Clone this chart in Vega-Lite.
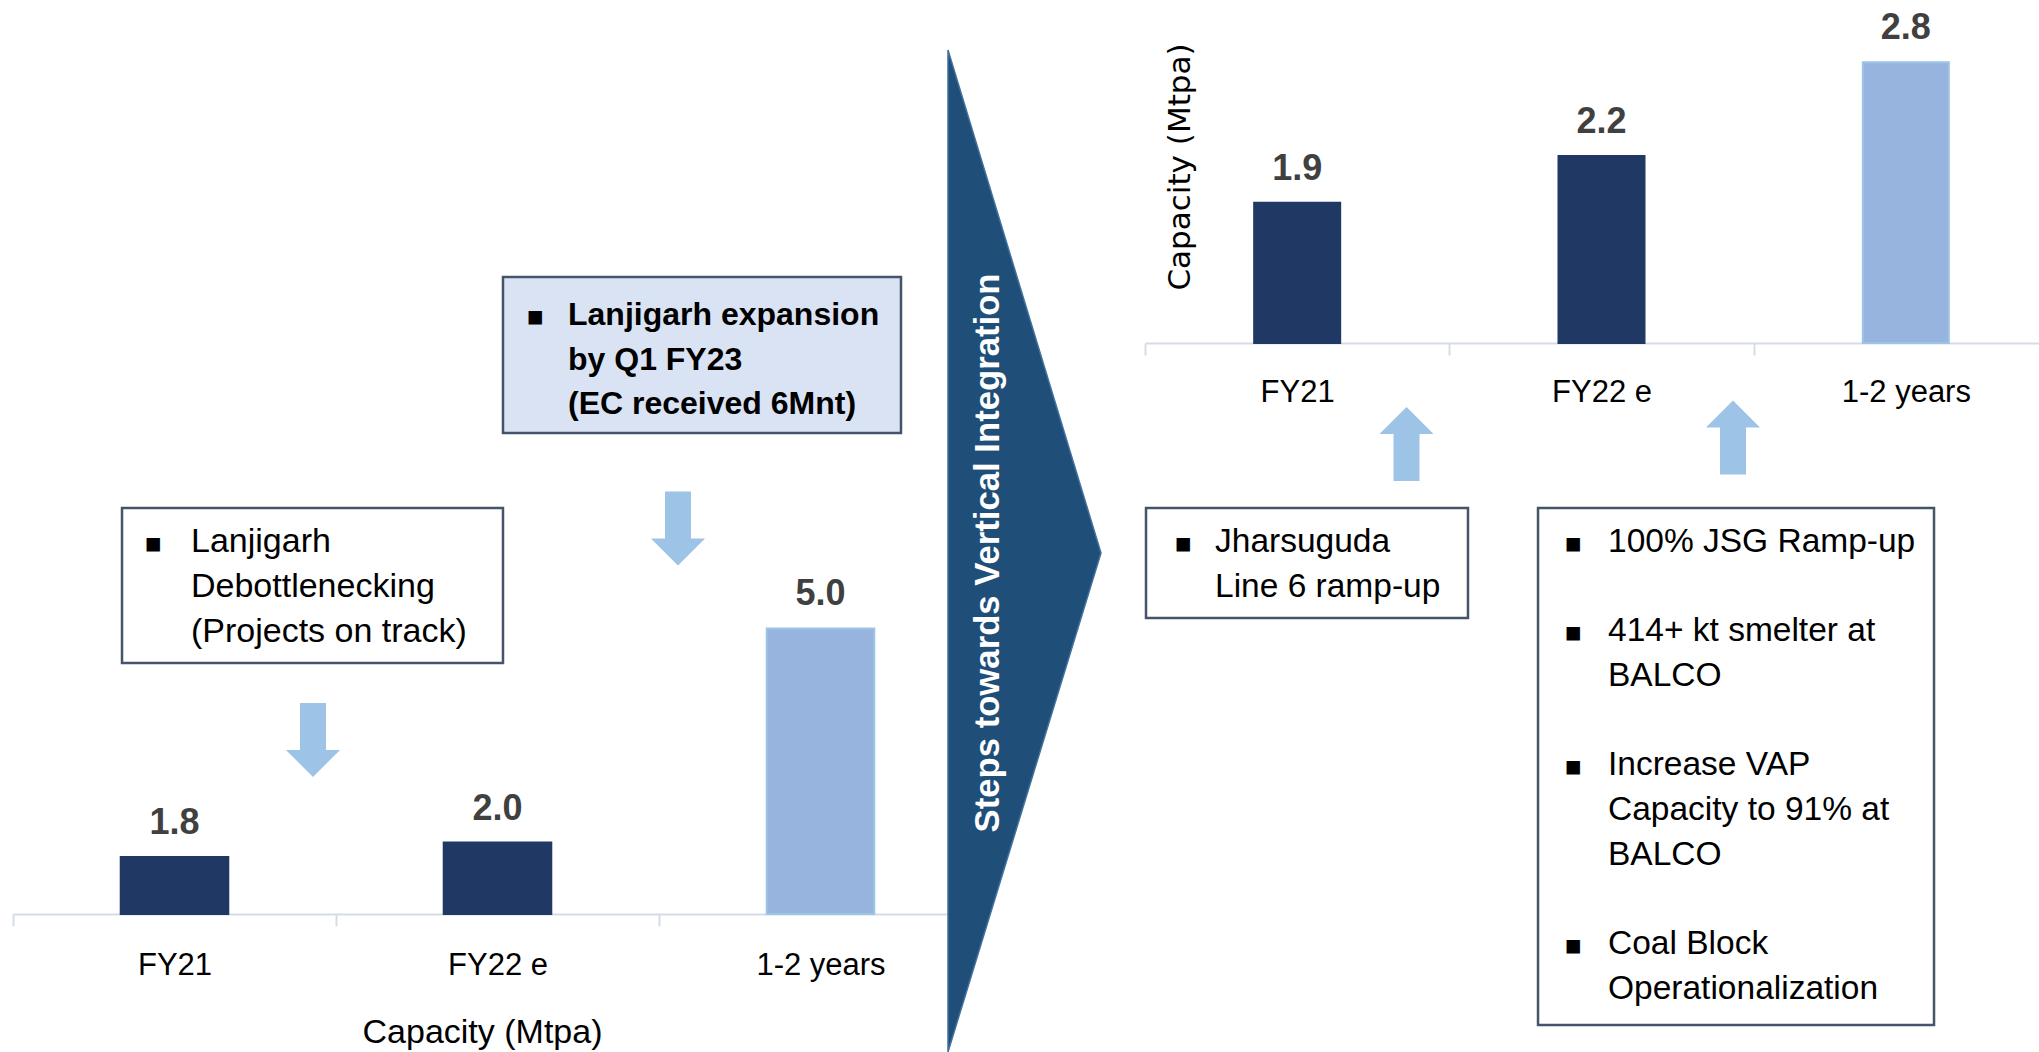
{
  "$schema": "https://vega.github.io/schema/vega-lite/v6.json",
  "background": "white",
  "padding": {"left": 12, "top": 0, "right": 0, "bottom": 0},
  "autosize": {"type": "pad"},
  "bounds": "flush",
  "spacing": 163,
  "config": {"view": {"stroke": null}, "font": "Liberation Sans", "axis": {"grid": false}},
  "datasets": {
    "alumina": [
      {"period": "FY21", "capacity": 1.8, "status": "Current"},
      {"period": "FY22 e", "capacity": 2.0, "status": "Current"},
      {"period": "1-2 years", "capacity": 5.0, "status": "Planned"}
    ],
    "aluminium": [
      {"period": "FY21", "capacity": 1.9, "status": "Current"},
      {"period": "FY22 e", "capacity": 2.2, "status": "Current"},
      {"period": "1-2 years", "capacity": 2.8, "status": "Planned"}
    ]
  },
  "hconcat": [
    {
      "width": 969,
      "height": 914,
      "resolve": {"scale": {"x": "independent"}},
      "layer": [
        {
          "data": {"name": "alumina"},
          "mark": {"type": "bar", "strokeWidth": 2, "width": {"band": 0.333}},
          "encoding": {
            "x": {"field": "period", "type": "nominal", "sort": null,
              "scale": {"paddingInner": 0, "paddingOuter": 0},
              "axis": {"title": "Capacity (Mtpa)", "labelAngle": 0, "domainColor": "#D6DCE5", "domainWidth": 2,
                "tickColor": "#D6DCE5", "tickWidth": 2, "tickSize": 12, "tickBand": "extent",
                "labelFont": "Liberation Sans", "labelFontSize": 31, "labelColor": "#000000", "labelPadding": 24,
                "titleFont": "Liberation Sans", "titleFontSize": 34, "titleFontWeight": "normal", "titleColor": "#000000",
                "titleX": 469, "titleY": 128, "titleBaseline": "alphabetic", "titleAlign": "center"}},
            "y": {"field": "capacity", "type": "quantitative", "scale": {"domain": [1, 13.8], "nice": false, "zero": false}, "axis": null},
            "y2": {"datum": 1},
            "color": {"field": "status", "type": "nominal", "scale": {"domain": ["Current", "Planned"], "range": ["#203864", "#97B4DE"]}, "legend": null},
            "stroke": {"field": "status", "type": "nominal", "scale": {"domain": ["Current", "Planned"], "range": ["#203864", "#9DC3E6"]}, "legend": null}
          }
        },
        {
          "data": {"name": "alumina"},
          "mark": {"type": "text", "dy": -23, "baseline": "alphabetic", "fontSize": 36, "fontWeight": "bold", "color": "#404040"},
          "encoding": {
            "x": {"field": "period", "type": "nominal", "sort": null, "scale": {"paddingInner": 0, "paddingOuter": 0}, "axis": null},
            "y": {"field": "capacity", "type": "quantitative", "scale": {"domain": [1, 13.8], "nice": false, "zero": false}, "axis": null},
            "text": {"field": "capacity", "type": "quantitative", "format": ".1f"}
          }
        },
        {
          "data": {"values": [{"note": "Lanjigarh debottlenecking"}]},
          "mark": {"type": "rect", "fill": "#FFFFFF", "stroke": "#44546A", "strokeWidth": 2.5},
          "encoding": {
            "x": {"datum": 0.3375, "type": "quantitative", "scale": {"domain": [0, 3], "nice": false, "zero": false}, "axis": null},
            "x2": {"datum": 1.517},
            "y": {"datum": 6.686, "type": "quantitative", "scale": {"domain": [1, 13.8], "nice": false, "zero": false}, "axis": null},
            "y2": {"datum": 4.515}
          }
        },
        {
          "data": {"values": [{"note": "Lanjigarh expansion"}]},
          "mark": {"type": "rect", "fill": "#DAE3F3", "stroke": "#44546A", "strokeWidth": 2.5},
          "encoding": {
            "x": {"datum": 1.517, "type": "quantitative", "scale": {"domain": [0, 3], "nice": false, "zero": false}, "axis": null},
            "x2": {"datum": 2.7492},
            "y": {"datum": 9.921, "type": "quantitative", "scale": {"domain": [1, 13.8], "nice": false, "zero": false}, "axis": null},
            "y2": {"datum": 7.736}
          }
        },
        {
          "data": {"values": [{"t": "▪"}]},
          "mark": {"type": "text", "align": "left", "baseline": "alphabetic", "font": "DejaVu Sans", "fontSize": 27, "color": "#000000"},
          "encoding": {
            "x": {"datum": 0.4056, "type": "quantitative", "scale": {"domain": [0, 3], "nice": false, "zero": false}, "axis": null},
            "y": {"datum": 6.07, "type": "quantitative", "scale": {"domain": [1, 13.8], "nice": false, "zero": false}, "axis": null},
            "text": {"field": "t"}
          }
        },
        {
          "data": {"values": [{"t": "Lanjigarh\nDebottlenecking\n(Projects on track)"}]},
          "mark": {"type": "text", "align": "left", "baseline": "alphabetic", "fontSize": 34, "lineHeight": 45, "lineBreak": "\n", "color": "#000000"},
          "encoding": {
            "x": {"datum": 0.551, "type": "quantitative", "scale": {"domain": [0, 3], "nice": false, "zero": false}, "axis": null},
            "y": {"datum": 6.07, "type": "quantitative", "scale": {"domain": [1, 13.8], "nice": false, "zero": false}, "axis": null},
            "text": {"field": "t"}
          }
        },
        {
          "data": {"values": [{"t": "▪"}]},
          "mark": {"type": "text", "align": "left", "baseline": "alphabetic", "font": "DejaVu Sans", "fontSize": 27, "color": "#000000"},
          "encoding": {
            "x": {"datum": 1.5882, "type": "quantitative", "scale": {"domain": [0, 3], "nice": false, "zero": false}, "axis": null},
            "y": {"datum": 9.249, "type": "quantitative", "scale": {"domain": [1, 13.8], "nice": false, "zero": false}, "axis": null},
            "text": {"field": "t"}
          }
        },
        {
          "data": {"values": [{"t": "Lanjigarh expansion\nby Q1 FY23\n(EC received 6Mnt)"}]},
          "mark": {"type": "text", "align": "left", "baseline": "alphabetic", "fontSize": 32, "fontWeight": "bold", "lineHeight": 44.7, "lineBreak": "\n", "color": "#000000"},
          "encoding": {
            "x": {"datum": 1.7183, "type": "quantitative", "scale": {"domain": [0, 3], "nice": false, "zero": false}, "axis": null},
            "y": {"datum": 9.249, "type": "quantitative", "scale": {"domain": [1, 13.8], "nice": false, "zero": false}, "axis": null},
            "text": {"field": "t"}
          }
        },
        {
          "data": {"values": [{"arrow": "debottlenecking to FY22 e"}]},
          "mark": {"type": "point", "filled": true, "opacity": 1, "color": "#9DC3E6", "strokeWidth": 0, "size": 5476,
            "shape": "M-0.351,-1L0.351,-1L0.351,0.27L0.73,0.27L0,1L-0.73,0.27L-0.351,0.27Z"},
          "encoding": {
            "x": {"datum": 0.9288, "type": "quantitative", "scale": {"domain": [0, 3], "nice": false, "zero": false}, "axis": null},
            "y": {"datum": 3.437, "type": "quantitative", "scale": {"domain": [1, 13.8], "nice": false, "zero": false}, "axis": null}
          }
        },
        {
          "data": {"values": [{"arrow": "expansion to 1-2 years"}]},
          "mark": {"type": "point", "filled": true, "opacity": 1, "color": "#9DC3E6", "strokeWidth": 0, "size": 5476,
            "shape": "M-0.351,-1L0.351,-1L0.351,0.27L0.73,0.27L0,1L-0.73,0.27L-0.351,0.27Z"},
          "encoding": {
            "x": {"datum": 2.0588, "type": "quantitative", "scale": {"domain": [0, 3], "nice": false, "zero": false}, "axis": null},
            "y": {"datum": 6.399, "type": "quantitative", "scale": {"domain": [1, 13.8], "nice": false, "zero": false}, "axis": null}
          }
        },
        {
          "data": {"values": [{"shape": "chevron"}]},
          "mark": {"type": "point", "filled": true, "opacity": 1, "fill": "#1F4E79", "stroke": "#41719C", "strokeWidth": 1.5, "size": 1004004,
            "shape": "M0,-1L0.3054,0.004L0,1Z"},
          "encoding": {
            "x": {"datum": 2.8947, "type": "quantitative", "scale": {"domain": [0, 3], "nice": false, "zero": false}, "axis": null},
            "y": {"datum": 6.084, "type": "quantitative", "scale": {"domain": [1, 13.8], "nice": false, "zero": false}, "axis": null}
          }
        },
        {
          "data": {"values": [{"t": "Steps towards Vertical Integration"}]},
          "mark": {"type": "text", "angle": 270, "align": "center", "baseline": "middle", "fontSize": 34.7, "fontWeight": "bold", "color": "#FFFFFF"},
          "encoding": {
            "x": {"datum": 3.0217, "type": "quantitative", "scale": {"domain": [0, 3], "nice": false, "zero": false}, "axis": null},
            "y": {"datum": 6.056, "type": "quantitative", "scale": {"domain": [1, 13.8], "nice": false, "zero": false}, "axis": null},
            "text": {"field": "t"}
          }
        }
      ]
    },
    {
      "width": 913,
      "height": 343,
      "resolve": {"scale": {"x": "independent"}},
      "layer": [
        {
          "data": {"name": "aluminium"},
          "mark": {"type": "bar", "strokeWidth": 2, "width": {"band": 0.2826}},
          "encoding": {
            "x": {"field": "period", "type": "nominal", "sort": null,
              "scale": {"paddingInner": 0, "paddingOuter": 0},
              "axis": {"title": null, "labelAngle": 0, "domainColor": "#D6DCE5", "domainWidth": 2,
                "tickColor": "#D6DCE5", "tickWidth": 2, "tickSize": 12, "tickBand": "extent",
                "labelFont": "Liberation Sans", "labelFontSize": 31, "labelColor": "#000000", "labelPadding": 22}},
            "y": {"field": "capacity", "type": "quantitative", "scale": {"domain": [1, 3.2], "nice": false, "zero": false}, "axis": null},
            "y2": {"datum": 1},
            "color": {"field": "status", "type": "nominal", "scale": {"domain": ["Current", "Planned"], "range": ["#203864", "#97B4DE"]}, "legend": null},
            "stroke": {"field": "status", "type": "nominal", "scale": {"domain": ["Current", "Planned"], "range": ["#203864", "#9DC3E6"]}, "legend": null}
          }
        },
        {
          "data": {"name": "aluminium"},
          "mark": {"type": "text", "dy": -23, "baseline": "alphabetic", "fontSize": 36, "fontWeight": "bold", "color": "#404040"},
          "encoding": {
            "x": {"field": "period", "type": "nominal", "sort": null, "scale": {"paddingInner": 0, "paddingOuter": 0}, "axis": null},
            "y": {"field": "capacity", "type": "quantitative", "scale": {"domain": [1, 3.2], "nice": false, "zero": false}, "axis": null},
            "text": {"field": "capacity", "type": "quantitative", "format": ".1f"}
          }
        },
        {
          "data": {"values": [{"t": "Capacity (Mtpa)"}]},
          "mark": {"type": "text", "angle": 270, "align": "center", "baseline": "middle", "font": "DejaVu Sans", "fontSize": 31, "color": "#000000"},
          "encoding": {
            "x": {"datum": 0.1183, "type": "quantitative", "scale": {"domain": [0, 3], "nice": false, "zero": false}, "axis": null},
            "y": {"datum": 2.1289, "type": "quantitative", "scale": {"domain": [1, 3.2], "nice": false, "zero": false}, "axis": null},
            "text": {"field": "t"}
          }
        },
        {
          "data": {"values": [{"note": "Jharsuguda"}]},
          "mark": {"type": "rect", "fill": "#FFFFFF", "stroke": "#44546A", "strokeWidth": 2.5},
          "encoding": {
            "x": {"datum": 0.0033, "type": "quantitative", "scale": {"domain": [0, 3], "nice": false, "zero": false}, "axis": null},
            "x2": {"datum": 1.0613},
            "y": {"datum": -0.0583, "type": "quantitative", "scale": {"domain": [1, 3.2], "nice": false, "zero": false}, "axis": null},
            "y2": {"datum": -0.7638}
          }
        },
        {
          "data": {"values": [{"note": "BALCO and JSG"}]},
          "mark": {"type": "rect", "fill": "#FFFFFF", "stroke": "#44546A", "strokeWidth": 2.5},
          "encoding": {
            "x": {"datum": 1.2914, "type": "quantitative", "scale": {"domain": [0, 3], "nice": false, "zero": false}, "axis": null},
            "x2": {"datum": 2.5926},
            "y": {"datum": -0.0583, "type": "quantitative", "scale": {"domain": [1, 3.2], "nice": false, "zero": false}, "axis": null},
            "y2": {"datum": -3.3743}
          }
        },
        {
          "data": {"values": [{"t": "▪"}]},
          "mark": {"type": "text", "align": "left", "baseline": "alphabetic", "font": "DejaVu Sans", "fontSize": 27, "color": "#000000"},
          "encoding": {
            "x": {"datum": 0.0953, "type": "quantitative", "scale": {"domain": [0, 3], "nice": false, "zero": false}, "axis": null},
            "y": {"datum": -0.3405, "type": "quantitative", "scale": {"domain": [1, 3.2], "nice": false, "zero": false}, "axis": null},
            "text": {"field": "t"}
          }
        },
        {
          "data": {"values": [{"t": "Jharsuguda\nLine 6 ramp-up"}]},
          "mark": {"type": "text", "align": "left", "baseline": "alphabetic", "fontSize": 33.5, "lineHeight": 45, "lineBreak": "\n", "color": "#000000"},
          "encoding": {
            "x": {"datum": 0.23, "type": "quantitative", "scale": {"domain": [0, 3], "nice": false, "zero": false}, "axis": null},
            "y": {"datum": -0.3405, "type": "quantitative", "scale": {"domain": [1, 3.2], "nice": false, "zero": false}, "axis": null},
            "text": {"field": "t"}
          }
        },
        {
          "data": {"values": [{"t": "▪"}]},
          "mark": {"type": "text", "align": "left", "baseline": "alphabetic", "font": "DejaVu Sans", "fontSize": 27, "color": "#000000"},
          "encoding": {
            "x": {"datum": 1.3768, "type": "quantitative", "scale": {"domain": [0, 3], "nice": false, "zero": false}, "axis": null},
            "y": {"datum": -0.3405, "type": "quantitative", "scale": {"domain": [1, 3.2], "nice": false, "zero": false}, "axis": null},
            "text": {"field": "t"}
          }
        },
        {
          "data": {"values": [{"t": "100% JSG Ramp-up"}]},
          "mark": {"type": "text", "align": "left", "baseline": "alphabetic", "fontSize": 33.5, "lineHeight": 44.7, "lineBreak": "\n", "color": "#000000"},
          "encoding": {
            "x": {"datum": 1.5214, "type": "quantitative", "scale": {"domain": [0, 3], "nice": false, "zero": false}, "axis": null},
            "y": {"datum": -0.3405, "type": "quantitative", "scale": {"domain": [1, 3.2], "nice": false, "zero": false}, "axis": null},
            "text": {"field": "t"}
          }
        },
        {
          "data": {"values": [{"t": "▪"}]},
          "mark": {"type": "text", "align": "left", "baseline": "alphabetic", "font": "DejaVu Sans", "fontSize": 27, "color": "#000000"},
          "encoding": {
            "x": {"datum": 1.3768, "type": "quantitative", "scale": {"domain": [0, 3], "nice": false, "zero": false}, "axis": null},
            "y": {"datum": -0.9139, "type": "quantitative", "scale": {"domain": [1, 3.2], "nice": false, "zero": false}, "axis": null},
            "text": {"field": "t"}
          }
        },
        {
          "data": {"values": [{"t": "414+ kt smelter at\nBALCO"}]},
          "mark": {"type": "text", "align": "left", "baseline": "alphabetic", "fontSize": 33.5, "lineHeight": 44.7, "lineBreak": "\n", "color": "#000000"},
          "encoding": {
            "x": {"datum": 1.5214, "type": "quantitative", "scale": {"domain": [0, 3], "nice": false, "zero": false}, "axis": null},
            "y": {"datum": -0.9139, "type": "quantitative", "scale": {"domain": [1, 3.2], "nice": false, "zero": false}, "axis": null},
            "text": {"field": "t"}
          }
        },
        {
          "data": {"values": [{"t": "▪"}]},
          "mark": {"type": "text", "align": "left", "baseline": "alphabetic", "font": "DejaVu Sans", "fontSize": 27, "color": "#000000"},
          "encoding": {
            "x": {"datum": 1.3768, "type": "quantitative", "scale": {"domain": [0, 3], "nice": false, "zero": false}, "axis": null},
            "y": {"datum": -1.774, "type": "quantitative", "scale": {"domain": [1, 3.2], "nice": false, "zero": false}, "axis": null},
            "text": {"field": "t"}
          }
        },
        {
          "data": {"values": [{"t": "Increase VAP\nCapacity to 91% at\nBALCO"}]},
          "mark": {"type": "text", "align": "left", "baseline": "alphabetic", "fontSize": 33.5, "lineHeight": 44.7, "lineBreak": "\n", "color": "#000000"},
          "encoding": {
            "x": {"datum": 1.5214, "type": "quantitative", "scale": {"domain": [0, 3], "nice": false, "zero": false}, "axis": null},
            "y": {"datum": -1.774, "type": "quantitative", "scale": {"domain": [1, 3.2], "nice": false, "zero": false}, "axis": null},
            "text": {"field": "t"}
          }
        },
        {
          "data": {"values": [{"t": "▪"}]},
          "mark": {"type": "text", "align": "left", "baseline": "alphabetic", "font": "DejaVu Sans", "fontSize": 27, "color": "#000000"},
          "encoding": {
            "x": {"datum": 1.3768, "type": "quantitative", "scale": {"domain": [0, 3], "nice": false, "zero": false}, "axis": null},
            "y": {"datum": -2.9208, "type": "quantitative", "scale": {"domain": [1, 3.2], "nice": false, "zero": false}, "axis": null},
            "text": {"field": "t"}
          }
        },
        {
          "data": {"values": [{"t": "Coal Block\nOperationalization"}]},
          "mark": {"type": "text", "align": "left", "baseline": "alphabetic", "fontSize": 33.5, "lineHeight": 44.7, "lineBreak": "\n", "color": "#000000"},
          "encoding": {
            "x": {"datum": 1.5214, "type": "quantitative", "scale": {"domain": [0, 3], "nice": false, "zero": false}, "axis": null},
            "y": {"datum": -2.9208, "type": "quantitative", "scale": {"domain": [1, 3.2], "nice": false, "zero": false}, "axis": null},
            "text": {"field": "t"}
          }
        },
        {
          "data": {"values": [{"arrow": "Jharsuguda to FY21"}]},
          "mark": {"type": "point", "filled": true, "opacity": 1, "color": "#9DC3E6", "strokeWidth": 0, "size": 5476,
            "shape": "M-0.351,1L0.351,1L0.351,-0.27L0.73,-0.27L0,-1L-0.73,-0.27L-0.351,-0.27Z"},
          "encoding": {
            "x": {"datum": 0.8593, "type": "quantitative", "scale": {"domain": [0, 3], "nice": false, "zero": false}, "axis": null},
            "y": {"datum": 0.3522, "type": "quantitative", "scale": {"domain": [1, 3.2], "nice": false, "zero": false}, "axis": null}
          }
        },
        {
          "data": {"values": [{"arrow": "BALCO to FY22 e"}]},
          "mark": {"type": "point", "filled": true, "opacity": 1, "color": "#9DC3E6", "strokeWidth": 0, "size": 5476,
            "shape": "M-0.351,1L0.351,1L0.351,-0.27L0.73,-0.27L0,-1L-0.73,-0.27L-0.351,-0.27Z"},
          "encoding": {
            "x": {"datum": 1.9321, "type": "quantitative", "scale": {"domain": [0, 3], "nice": false, "zero": false}, "axis": null},
            "y": {"datum": 0.3939, "type": "quantitative", "scale": {"domain": [1, 3.2], "nice": false, "zero": false}, "axis": null}
          }
        }
      ]
    }
  ]
}
